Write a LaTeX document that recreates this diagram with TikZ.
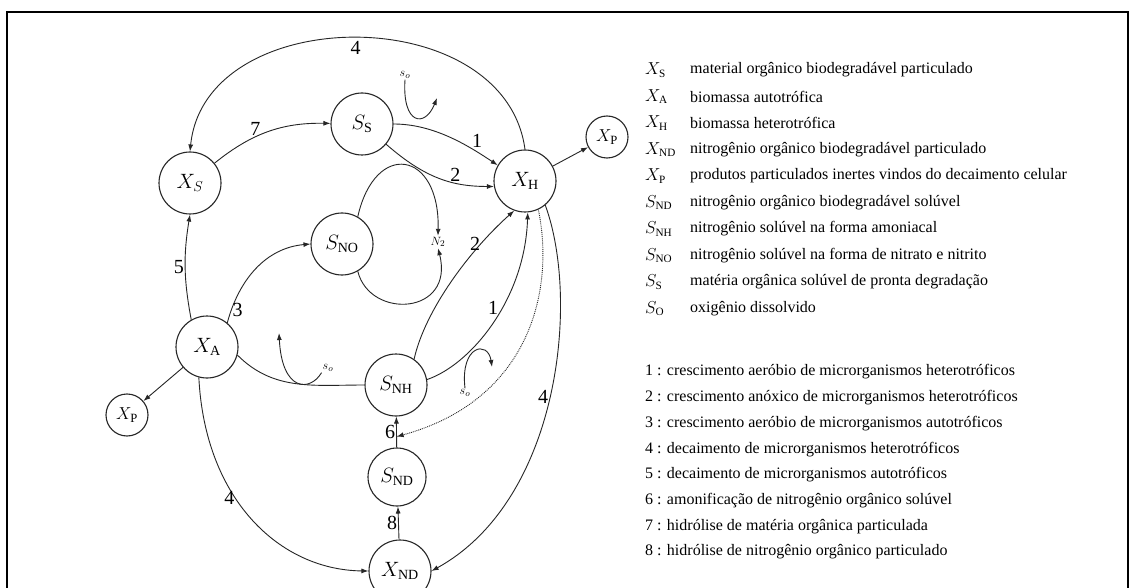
\documentclass[tikz,border=0pt]{standalone}
\usepackage{fontspec}
\setmainfont{Liberation Serif}
\usetikzlibrary{positioning, arrows.meta, calc}

\begin{document}
\begin{tikzpicture}[
    x=1pt, y=1pt,
    pool/.style={draw=black!85, line width=1.1pt, circle, inner sep=0pt, minimum size=62pt, font=\fontsize{20}{24}\selectfont},
    poolP/.style={pool, minimum size=42pt, font=\fontsize{18}{22}\selectfont},
    >={Latex[length=7pt, width=5pt]},
    flow/.style={draw=black!85, line width=0.9pt, ->},
    link/.style={draw=black!85, line width=0.9pt},
    num/.style={font=\fontsize{20}{24}\selectfont, inner sep=1pt},
    oxy/.style={font=\fontsize{13}{15}\selectfont, inner sep=1pt},
    legsym/.style={anchor=west, font=\fontsize{16}{19}\selectfont, inner sep=0pt},
    legtxt/.style={anchor=west, font=\fontsize{16}{19}\selectfont, inner sep=0pt},
]
\path[fill=white, use as bounding box] (0,0) rectangle (1130,-588);
\draw[line width=2pt] (7,-588) -- (7,-12) -- (1128,-12) -- (1128,-588);

% pools
\node[pool]  (xs)  at (190,-183) {$X_S$};
\node[pool]  (ss)  at (362,-124) {$S_{\mathrm{S}}$};
\node[pool]  (xh)  at (525,-181) {$X_{\mathrm{H}}$};
\node[poolP] (xpr) at (607,-137) {$X_{\mathrm{P}}$};
\node[pool]  (sno) at (342,-244) {$S_{\mathrm{NO}}$};
\node[pool]  (xa)  at (207,-347) {$X_{\mathrm{A}}$};
\node[poolP] (xpl) at (127,-415) {$X_{\mathrm{P}}$};
\node[pool]  (snh) at (396,-385) {$S_{\mathrm{NH}}$};
\node[pool, minimum size=58pt] (snd) at (397,-477) {$S_{\mathrm{ND}}$};
\node[pool]  (xnd) at (400,-571) {$X_{\mathrm{ND}}$};
\node[oxy]   (n2)  at (438,-242) {$N_2$};
\node[oxy]   (soS) at (405,-75)  {$s_o$};
\node[oxy]   (soA) at (328,-368) {$s_o$};
\node[oxy]   (soN) at (465,-393) {$s_o$};
\coordinate (oxS) at (437,-98);
\coordinate (oxA) at (279,-333);
\coordinate (oxN) at (492,-367);
\coordinate (d6) at ($(snd.north)!0.35!(snh.south)$);

% connectors
\draw[flow] (xh.north) .. controls +(-20,150) and +(15,150) .. node[num, pos=0.5, below=2pt] {4} (xs.north);
\draw[flow] (xs) to[bend left=20] node[num, pos=0.38, above] {7} (ss);
\draw[flow] (ss.east) .. controls +(40,0) and +(-30,20) .. node[num, pos=0.72, above right=-1pt] {1} (xh.150);
\draw[flow] (ss.-40) .. controls +(40,-35) and +(-40,0) .. node[num, pos=0.6, above right=-2pt] {2} (xh.190);
\draw[flow] (soS.south) .. controls (402,-125) and (425,-128) .. (oxS);
\draw[flow] (xh) -- (xpr);
\draw[flow] (xa.120) to[bend left=10] node[num, left] {5} (xs.south);
\draw[flow] (xa.50) to[out=75, in=185] node[num, pos=0.1, right] {3} (sno.west);
\draw[link] (xa.-15) to[out=-45, in=180] (snh.west);
\draw[flow] (soA.south west) .. controls (310,-392) and (282,-392) .. (oxA);
\draw[flow] (xa) -- (xpl);
\draw[flow] (sno.60) .. controls (375,-140) and (440,-150) .. (n2.north);
\draw[flow] (sno.-60) .. controls (370,-320) and (455,-315) .. (n2.south);
\draw[flow] (snh.55) .. controls (425,-310) and (470,-250) .. node[num, pos=0.75, left] {2} (xh.250);
\draw[flow] (snh.10) .. controls (470,-365) and (525,-300) .. node[num, pos=0.55, above left=-2pt] {1} (xh.275);
\draw[flow] (soN.north) .. controls (460,-345) and (488,-340) .. (oxN);
\draw[flow, densely dotted] (xh.295) .. controls (555,-290) and (530,-400) .. (d6);
\draw[flow] (xh.310) .. controls (580,-300) and (560,-500) .. node[num, pos=0.5, left] {4} (xnd.east);
\draw[flow] (xa.255) .. controls (205,-500) and (280,-570) .. node[num, pos=0.4, left] {4} (xnd.west);
\draw[flow] (snd) -- node[num, left] {6} (snh);
\draw[flow] (xnd) -- node[num, left] {8} (snd);

% legend
\node[legsym] (lxs)  at (645,-70)    {$X_{\mathrm{S}}$};
\node[legtxt] (txs)  at (690,-70)    {material orgânico biodegradável particulado};
\node[legsym] (lxa)  at (645,-96.5)  {$X_{\mathrm{A}}$};
\node[legtxt] (txa)  at (690,-96.5)  {biomassa autotrófica};
\node[legsym] (lxh)  at (645,-123)   {$X_{\mathrm{H}}$};
\node[legtxt] (txh)  at (690,-123)   {biomassa heterotrófica};
\node[legsym] (lxnd) at (645,-149.5) {$X_{\mathrm{ND}}$};
\node[legtxt] (txnd) at (690,-149.5) {nitrogênio orgânico biodegradável particulado};
\node[legsym] (lxp)  at (645,-176)   {$X_{\mathrm{P}}$};
\node[legtxt] (txp)  at (690,-176)   {produtos particulados inertes vindos do decaimento celular};
\node[legsym] (lsnd) at (645,-202.5) {$S_{\mathrm{ND}}$};
\node[legtxt] (tsnd) at (690,-202.5) {nitrogênio orgânico biodegradável solúvel};
\node[legsym] (lsnh) at (645,-229)   {$S_{\mathrm{NH}}$};
\node[legtxt] (tsnh) at (690,-229)   {nitrogênio solúvel na forma amoniacal};
\node[legsym] (lsno) at (645,-255.5) {$S_{\mathrm{NO}}$};
\node[legtxt] (tsno) at (690,-255.5) {nitrogênio solúvel na forma de nitrato e nitrito};
\node[legsym] (lss)  at (645,-282)   {$S_{\mathrm{S}}$};
\node[legtxt] (tss)  at (690,-282)   {matéria orgânica solúvel de pronta degradação};
\node[legsym] (lso)  at (645,-308.5) {$S_{\mathrm{O}}$};
\node[legtxt] (tso)  at (690,-308.5) {oxigênio dissolvido};

\node[legtxt] (p1) at (645,-372)   {1 : crescimento aeróbio de microrganismos heterotróficos};
\node[legtxt] (p2) at (645,-397.7) {2 : crescimento anóxico de microrganismos heterotróficos};
\node[legtxt] (p3) at (645,-423.4) {3 : crescimento aeróbio de microrganismos autotróficos};
\node[legtxt] (p4) at (645,-449.1) {4 : decaimento de microrganismos heterotróficos};
\node[legtxt] (p5) at (645,-474.8) {5 : decaimento de microrganismos autotróficos};
\node[legtxt] (p6) at (645,-500.5) {6 : amonificação de nitrogênio orgânico solúvel};
\node[legtxt] (p7) at (645,-526.2) {7 : hidrólise de matéria orgânica particulada};
\node[legtxt] (p8) at (645,-551.9) {8 : hidrólise de nitrogênio orgânico particulado};
\end{tikzpicture}
\end{document}
